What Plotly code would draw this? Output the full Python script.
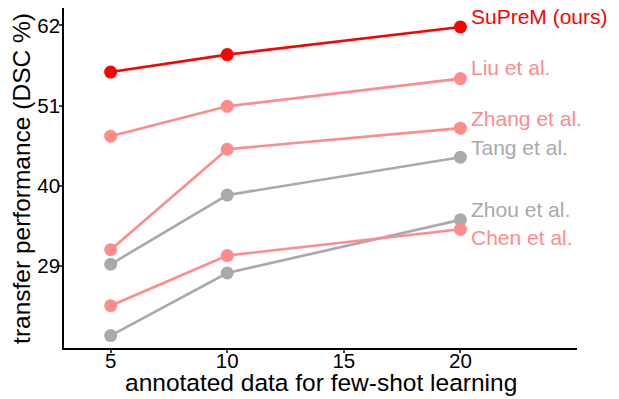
import plotly.graph_objects as go

shots = [5, 10, 20]
methods = ["SuPreM (ours)", "Liu et al.", "Zhang et al.", "Tang et al.", "Zhou et al.", "Chen et al."]
values = {
    "SuPreM (ours)": [55.6, 58.0, 61.8],
    "Liu et al.": [46.8, 50.9, 54.7],
    "Zhang et al.": [31.2, 45.0, 47.9],
    "Tang et al.": [29.2, 38.7, 43.9],
    "Zhou et al.": [19.4, 28.0, 35.3],
    "Chen et al.": [23.5, 30.4, 34.0],
}
colors = {
    "SuPreM (ours)": "#FF0000",
    "Liu et al.": "#FF8C8C",
    "Zhang et al.": "#FF8C8C",
    "Tang et al.": "#AAAAAA",
    "Zhou et al.": "#AAAAAA",
    "Chen et al.": "#FF8C8C",
}
label_shift = {
    "SuPreM (ours)": 10, "Liu et al.": 11, "Zhang et al.": 10,
    "Tang et al.": 10, "Zhou et al.": 10, "Chen et al.": -8,
}
y_ticks = [29, 40, 51, 62]
x_ticks = [5, 10, 15, 20]
x_title = "annotated data for few-shot learning"
y_title = "transfer performance (DSC %)"

FONT = "Liberation Sans, Arial, sans-serif"

fig = go.Figure()
order = ["Zhou et al.", "Tang et al.", "Chen et al.", "Zhang et al.", "Liu et al.", "SuPreM (ours)"]
for m in order:
    fig.add_trace(go.Scatter(
        x=shots, y=values[m], mode="lines+markers", name=m,
        line=dict(color=colors[m], width=2.6),
        marker=dict(color=colors[m], size=13),
        showlegend=False, cliponaxis=False,
    ))
for m in methods:
    fig.add_annotation(
        x=shots[-1], y=values[m][-1], text=m, showarrow=False,
        xanchor="left", yanchor="middle", xshift=10, yshift=label_shift[m],
        borderpad=0,
        font=dict(family=FONT, size=21, color=colors[m]),
    )

fig.add_annotation(
    xref="paper", yref="paper", x=0.5, y=-0.1, text=x_title, showarrow=False,
    xanchor="center", yanchor="middle", borderpad=0,
    font=dict(family=FONT, size=24.5, color="black"),
)
fig.add_annotation(
    xref="paper", yref="paper", x=-0.084, y=0.5, text=y_title, showarrow=False,
    xanchor="center", yanchor="middle", textangle=-90, borderpad=0,
    font=dict(family=FONT, size=24.5, color="black"),
)

axis_font = dict(family=FONT, size=20.5, color="black")
fig.update_layout(
    width=611, height=391,
    margin=dict(l=56, r=42, t=0, b=51, autoexpand=False),
    plot_bgcolor="white", paper_bgcolor="white",
    xaxis=dict(
        range=[3, 25], tickvals=x_ticks, ticks="outside", ticklen=3, tickwidth=1.5,
        showline=True, linecolor="black", linewidth=1.5, showgrid=False, zeroline=False,
        tickfont=axis_font, automargin=False, ticklabelstandoff=-9,
    ),
    yaxis=dict(
        range=[17.7, 64.4], tickvals=y_ticks, ticks="outside", ticklen=3, tickwidth=1.5,
        showline=True, linecolor="black", linewidth=1.5, showgrid=False, zeroline=False,
        tickfont=axis_font, automargin=False, ticklabelstandoff=-5,
    ),
)
fig.write_html("out.html")
